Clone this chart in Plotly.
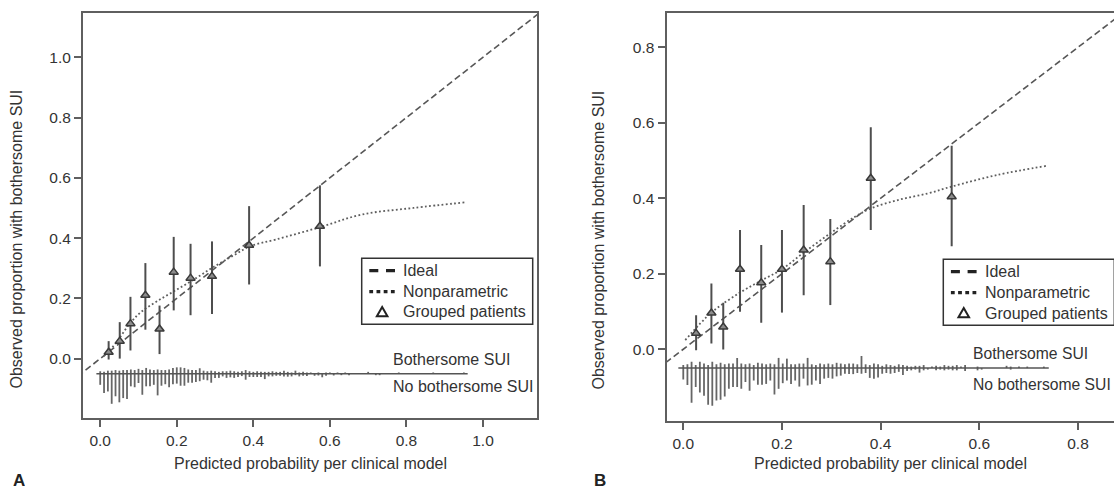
import plotly.graph_objects as go

# ---------------- data ----------------
# Panel A: grouped patients (predicted, observed, CI low, CI high)
A_pred = [0.022, 0.051, 0.079, 0.118, 0.155, 0.192, 0.236, 0.292, 0.389, 0.574]
A_obs = [0.021, 0.058, 0.116, 0.210, 0.098, 0.287, 0.267, 0.273, 0.376, 0.439]
A_lo = [-0.003, 0.000, 0.027, 0.096, 0.015, 0.160, 0.144, 0.148, 0.246, 0.306]
A_hi = [0.058, 0.121, 0.205, 0.317, 0.176, 0.404, 0.381, 0.389, 0.506, 0.575]
# Panel A: nonparametric calibration curve
A_np_x = [0.009, 0.018, 0.040, 0.0785, 0.110, 0.148, 0.192, 0.244, 0.296, 0.348, 0.392, 0.458, 0.574, 0.683, 0.818, 0.957]
A_np_y = [0.008, 0.019, 0.050, 0.118, 0.158, 0.190, 0.223, 0.262, 0.304, 0.342, 0.373, 0.395, 0.436, 0.478, 0.500, 0.519]

# Panel B
B_pred = [0.026, 0.057, 0.081, 0.115, 0.158, 0.200, 0.244, 0.298, 0.380, 0.544]
B_obs = [0.042, 0.096, 0.059, 0.212, 0.176, 0.212, 0.263, 0.232, 0.453, 0.404]
B_lo = [-0.003, 0.015, -0.001, 0.099, 0.070, 0.097, 0.143, 0.117, 0.316, 0.273]
B_hi = [0.090, 0.174, 0.123, 0.316, 0.276, 0.316, 0.382, 0.345, 0.588, 0.539]
B_np_x = [0.004, 0.057, 0.115, 0.158, 0.200, 0.244, 0.298, 0.348, 0.380, 0.437, 0.496, 0.544, 0.637, 0.737]
B_np_y = [0.024, 0.097, 0.150, 0.182, 0.212, 0.256, 0.307, 0.351, 0.373, 0.396, 0.413, 0.431, 0.462, 0.486]

# Ideal (45-degree) reference line extent
IDEAL_A = [-0.1, 1.2]
IDEAL_B = [-0.1, 1.0]

# Risk distribution spikes (histogram heights per bin, events up / non-events down)
RUG_LEVEL = -0.05
A_bin_width = 0.01
B_bin_width = 0.0084
A_down = [0.037, 0.064, 0.059, 0.100, 0.075, 0.095, 0.081, 0.084, 0.042, 0.045,
          0.031, 0.070, 0.042, 0.042, 0.037, 0.072, 0.040, 0.035, 0.045, 0.035,
          0.033, 0.040, 0.040, 0.030, 0.030, 0.028, 0.025, 0.020, 0.022, 0.030,
          0.014, 0.014, 0.009, 0.014, 0.012, 0.014, 0.011, 0.008, 0.020, 0.011,
          0.011, 0.011, 0.011, 0.018, 0.009, 0.009, 0.007, 0.007, 0.009, 0.010,
          0.009, 0.005, 0.009, 0.007, 0.008, 0.000, 0.007, 0.006, 0.012, 0.007,
          0.000, 0.006, 0.000, 0.005, 0.000, 0.005, 0.000, 0.000, 0.000, 0.000,
          0.000, 0.000, 0.005, 0.005, 0.000, 0.000, 0.000, 0.000, 0.000, 0.000,
          0.000, 0.000, 0.000, 0.000, 0.000, 0.000, 0.000, 0.000, 0.000, 0.000,
          0.000, 0.000, 0.000, 0.000, 0.000, 0.000]
A_up = [0.008, 0.006, 0.010, 0.010, 0.012, 0.010, 0.012, 0.012, 0.014, 0.012,
        0.016, 0.012, 0.019, 0.014, 0.012, 0.014, 0.012, 0.012, 0.014, 0.019,
        0.021, 0.021, 0.019, 0.014, 0.012, 0.012, 0.018, 0.010, 0.008, 0.010,
        0.008, 0.006, 0.008, 0.008, 0.010, 0.008, 0.006, 0.008, 0.012, 0.008,
        0.006, 0.008, 0.006, 0.006, 0.006, 0.008, 0.006, 0.006, 0.010, 0.006,
        0.004, 0.010, 0.004, 0.006, 0.004, 0.004, 0.000, 0.004, 0.000, 0.004,
        0.004, 0.000, 0.004, 0.000, 0.004, 0.000, 0.000, 0.000, 0.000, 0.000,
        0.006, 0.000, 0.000, 0.000, 0.000, 0.000, 0.000, 0.000, 0.004, 0.000,
        0.000, 0.000, 0.000, 0.000, 0.000, 0.000, 0.000, 0.004, 0.000, 0.000,
        0.000, 0.000, 0.000, 0.000, 0.000, 0.004]
B_down = [0.030, 0.045, 0.092, 0.050, 0.065, 0.073, 0.097, 0.100, 0.086, 0.084,
          0.075, 0.055, 0.050, 0.050, 0.055, 0.037, 0.060, 0.033, 0.044, 0.044,
          0.042, 0.033, 0.070, 0.055, 0.040, 0.033, 0.042, 0.033, 0.049, 0.028,
          0.046, 0.044, 0.033, 0.042, 0.028, 0.026, 0.028, 0.022, 0.020, 0.015,
          0.016, 0.016, 0.013, 0.015, 0.013, 0.026, 0.028, 0.025, 0.015, 0.013,
          0.015, 0.013, 0.010, 0.018, 0.008, 0.006, 0.004, 0.012, 0.006, 0.004,
          0.000, 0.006, 0.004, 0.006, 0.004, 0.006, 0.006, 0.000, 0.008, 0.000,
          0.000, 0.006, 0.004, 0.000, 0.000, 0.000, 0.000, 0.000, 0.000, 0.004,
          0.000, 0.000, 0.000, 0.000, 0.000, 0.000, 0.000, 0.000]
B_up = [0.008, 0.010, 0.017, 0.008, 0.017, 0.012, 0.008, 0.017, 0.010, 0.014,
        0.010, 0.012, 0.012, 0.027, 0.012, 0.010, 0.012, 0.008, 0.014, 0.012,
        0.010, 0.012, 0.010, 0.027, 0.012, 0.025, 0.010, 0.010, 0.012, 0.012,
        0.027, 0.010, 0.008, 0.012, 0.010, 0.012, 0.010, 0.014, 0.012, 0.010,
        0.012, 0.012, 0.010, 0.032, 0.010, 0.008, 0.012, 0.010, 0.006, 0.010,
        0.008, 0.006, 0.010, 0.008, 0.006, 0.004, 0.006, 0.006, 0.008, 0.000,
        0.004, 0.006, 0.004, 0.008, 0.006, 0.006, 0.008, 0.004, 0.008, 0.000,
        0.000, 0.004, 0.000, 0.000, 0.000, 0.000, 0.000, 0.000, 0.006, 0.004,
        0.000, 0.004, 0.000, 0.004, 0.000, 0.000, 0.000, 0.004]

A_ticks = [0.0, 0.2, 0.4, 0.6, 0.8, 1.0]
B_ticks = [0.0, 0.2, 0.4, 0.6, 0.8]

X_TITLE = "Predicted probability per clinical model"
Y_TITLE = "Observed proportion with bothersome SUI"
EVENT_LABEL = "Bothersome SUI"
NONEVENT_LABEL = "No bothersome SUI"
LEGEND_LABELS = ["Ideal", "Nonparametric", "Grouped patients"]

# ---------------- styling ----------------
W, H = 1114, 490
FONT = "Liberation Sans, Arial, sans-serif"
TXT = "#333333"
AXC = "#5f5f5f"


def PX(x):
    return x / W


def PY(y):
    return 1 - y / H


fig = go.Figure()


def spikes(width, ups, downs):
    xs, ys = [], []
    for k, (u, d) in enumerate(zip(ups, downs)):
        b = k * width
        if u > 0:
            xs += [b, b, None]
            ys += [RUG_LEVEL, RUG_LEVEL + u, None]
        if d > 0:
            xs += [b, b, None]
            ys += [RUG_LEVEL, RUG_LEVEL - d, None]
    used = [k * width for k, (u, d) in enumerate(zip(ups, downs)) if u > 0 or d > 0]
    base_x = [min(used) - 0.01, max(used) + 0.01]
    return xs, ys, base_x


def add_panel(xa, ya, pred, obs, lo, hi, npx, npy, ideal, width, ups, downs):
    sx, sy, bx = spikes(width, ups, downs)
    fig.add_trace(go.Scatter(x=sx, y=sy, mode="lines", line=dict(color="#666666", width=1.8),
                             xaxis=xa, yaxis=ya, showlegend=False, hoverinfo="skip"))
    fig.add_trace(go.Scatter(x=bx, y=[RUG_LEVEL, RUG_LEVEL], mode="lines",
                             line=dict(color="#555555", width=1.6),
                             xaxis=xa, yaxis=ya, showlegend=False, hoverinfo="skip"))
    fig.add_trace(go.Scatter(x=ideal, y=ideal, mode="lines",
                             line=dict(color="#575757", width=1.6, dash="6.5px,3.5px"),
                             xaxis=xa, yaxis=ya, showlegend=False))
    fig.add_trace(go.Scatter(x=npx, y=npy, mode="lines", line_shape="spline",
                             line=dict(color="#5e5e5e", width=1.8, dash="1.8px,2.4px"),
                             xaxis=xa, yaxis=ya, showlegend=False))
    fig.add_trace(go.Scatter(
        x=pred, y=obs, mode="markers",
        marker=dict(symbol="triangle-up", size=8, color="#8c8c8c",
                    line=dict(color="#3a3a3a", width=1.5)),
        error_y=dict(type="data", symmetric=False,
                     array=[h - o for h, o in zip(hi, obs)],
                     arrayminus=[o - l for o, l in zip(obs, lo)],
                     thickness=2, width=0, color="#4e4e4e"),
        xaxis=xa, yaxis=ya, showlegend=False))


add_panel("x", "y", A_pred, A_obs, A_lo, A_hi, A_np_x, A_np_y, IDEAL_A,
          A_bin_width, A_up, A_down)
add_panel("x2", "y2", B_pred, B_obs, B_lo, B_hi, B_np_x, B_np_y, IDEAL_B,
          B_bin_width, B_up, B_down)


def axis(domain, rng, ticks, anchor):
    return dict(domain=domain, range=rng, anchor=anchor, tickvals=ticks,
                ticktext=[f"{t:.1f}" for t in ticks], ticks="outside", ticklen=7,
                tickwidth=1.6, tickcolor=AXC, showline=True, linecolor=AXC, linewidth=2,
                mirror=True, showgrid=False, zeroline=False,
                tickfont=dict(family=FONT, size=15.5, color=TXT))


fig.update_layout(
    width=W, height=H,
    margin=dict(l=0, r=0, t=0, b=0, autoexpand=False),
    paper_bgcolor="white", plot_bgcolor="white",
    font=dict(family=FONT, size=16, color=TXT),
    xaxis=axis([0.0745, 0.482], [-0.045, 1.141], A_ticks, "y"),
    yaxis=axis([0.147, 0.9735], [-0.197, 1.147], A_ticks, "x"),
    xaxis2=axis([0.5983, 1.0], [-0.034, 0.873], B_ticks, "y2"),
    yaxis2=axis([0.141, 0.9735], [-0.190, 0.891], B_ticks, "x2"),
    showlegend=False,
)

ann = []
shapes = []
for xp, yp in [(15.5, 239), (597.5, 240)]:
    ann.append(dict(text=Y_TITLE, x=PX(xp), y=PY(yp), xref="paper", yref="paper", textangle=-90,
                    showarrow=False, xanchor="center", yanchor="middle",
                    font=dict(family=FONT, size=16, color=TXT)))
for xp in [310, 890]:
    ann.append(dict(text=X_TITLE, x=PX(xp), y=PY(463), xref="paper", yref="paper",
                    showarrow=False, xanchor="center", yanchor="middle",
                    font=dict(family=FONT, size=16, color=TXT)))
for lab, xp in [("A", 18.5), ("B", 600)]:
    ann.append(dict(text=f"<b>{lab}</b>", x=PX(xp), y=PY(479.5), xref="paper", yref="paper",
                    showarrow=False, xanchor="center", yanchor="middle", height=14,
                    font=dict(family=FONT, size=17, color="#222222")))
for xr, yr, lx, y1, y0, fs in [("x", "y", 0.759, -0.003, -0.092, 16),
                               ("x2", "y2", 0.5825, -0.011, -0.093, 15.7)]:
    ann.append(dict(text=EVENT_LABEL, x=lx, y=y1, xref=xr, yref=yr, showarrow=False,
                    xanchor="left", yanchor="middle", font=dict(family=FONT, size=fs, color=TXT)))
    ann.append(dict(text=NONEVENT_LABEL, x=lx, y=y0, xref=xr, yref=yr, showarrow=False,
                    xanchor="left", yanchor="middle", font=dict(family=FONT, size=fs, color=TXT)))

# custom legends (box, samples, labels), positioned in pixels
for bx0, by0, rows in [(361.7, 258.3, [270.7, 291.7, 311.9]), (943.3, 259.3, [271.7, 292.7, 313.0])]:
    shapes.append(dict(type="rect", xref="paper", yref="paper", x0=PX(bx0), x1=PX(bx0 + 171),
                       y0=PY(by0), y1=PY(by0 + 66), line=dict(color="#333333", width=1.5),
                       fillcolor="white", layer="above"))
    s0, s1 = bx0 + 7.6, bx0 + 33.3
    shapes.append(dict(type="line", xref="paper", yref="paper", x0=PX(s0), x1=PX(s1),
                       y0=PY(rows[0]), y1=PY(rows[0]), layer="above",
                       line=dict(color="#222222", width=3.2, dash="9px,7.7px")))
    shapes.append(dict(type="line", xref="paper", yref="paper", x0=PX(s0), x1=PX(s1),
                       y0=PY(rows[1]), y1=PY(rows[1]), layer="above",
                       line=dict(color="#222222", width=3.2, dash="3.8px,3.4px")))
    cx, cy = (s0 + s1) / 2, rows[2]
    shapes.append(dict(type="path", xref="paper", yref="paper", layer="above",
                       path=f"M{PX(cx - 5.3)},{PY(cy + 4.3)} L{PX(cx + 5.3)},{PY(cy + 4.3)} "
                            f"L{PX(cx)},{PY(cy - 5)} Z",
                       line=dict(color="#222222", width=2)))
    for lab, ry in zip(LEGEND_LABELS, rows):
        ann.append(dict(text=lab, x=PX(bx0 + 39.5), y=PY(ry), xref="paper", yref="paper",
                        showarrow=False, xanchor="left", yanchor="middle",
                        font=dict(family=FONT, size=16, color=TXT)))

fig.update_layout(annotations=ann, shapes=shapes)

fig.write_html("out.html", config={"displayModeBar": False},
               post_script="document.body.style.margin='0px';")
